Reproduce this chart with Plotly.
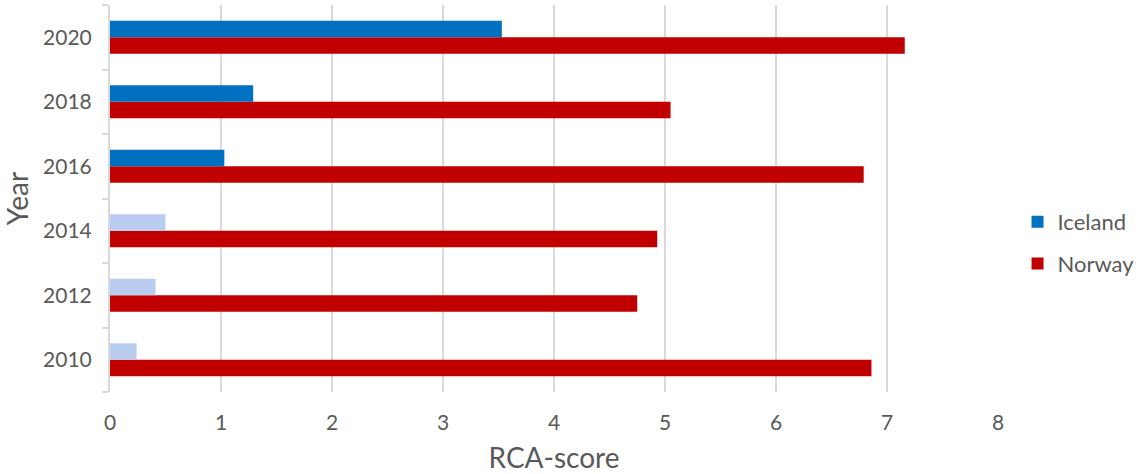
import plotly.graph_objects as go

# Years, top to bottom
years = ["2020", "2018", "2016", "2014", "2012", "2010"]
iceland = [3.53, 1.29, 1.03, 0.50, 0.41, 0.24]
norway = [7.16, 5.05, 6.79, 4.93, 4.75, 6.86]

ICE_BLUE = "#0070c0"
ICE_LIGHT = "#bacdf0"
NOR_RED = "#c00000"
TXT = "#595959"
GRID = "#d9d9d9"

ice_colors = [ICE_BLUE, ICE_BLUE, ICE_BLUE, ICE_LIGHT, ICE_LIGHT, ICE_LIGHT]

fig = go.Figure()
# Norway drawn first so Iceland sits above it within each year
fig.add_trace(go.Bar(
    y=years, x=norway, name="Norway", orientation="h",
    legendgroup="nor", legendrank=2,
    marker=dict(color=NOR_RED, line=dict(width=0)),
))
fig.add_trace(go.Bar(
    y=years, x=iceland, name="Iceland", orientation="h",
    legendgroup="ice", legendrank=1,
    marker=dict(color=ice_colors, line=dict(width=0)),
))

font_family = "Lato, 'Open Sans', sans-serif"

fig.update_layout(
    width=1146, height=474,
    margin=dict(l=110, r=148, t=5, b=82, autoexpand=False),
    paper_bgcolor="white", plot_bgcolor="white",
    barmode="group", bargap=0.49, bargroupgap=0,
    font=dict(family=font_family, color=TXT, size=21),
    showlegend=True,
    legend=dict(
        traceorder="grouped", x=1.022, y=0.385, xanchor="left", yanchor="middle",
        font=dict(size=22, color=TXT), itemsizing="constant", itemwidth=30,
        tracegroupgap=10, bgcolor="rgba(0,0,0,0)",
    ),
    xaxis=dict(
        range=[0, 8], dtick=1, tick0=0,
        showgrid=True, gridcolor=GRID, gridwidth=2,
        zeroline=False, showline=False,
        ticks="", tickfont=dict(size=21, color=TXT), ticklabelstandoff=16,
        title=dict(text="RCA-score", font=dict(size=28, color=TXT), standoff=22),
    ),
    yaxis=dict(
        type="category", categoryorder="array",
        categoryarray=["2010", "2012", "2014", "2016", "2018", "2020"],
        showline=True, linecolor=GRID, linewidth=2,
        ticks="outside", tickson="boundaries", ticklen=6,
        tickcolor=GRID, tickwidth=2, ticklabelstandoff=12,
        showgrid=False, tickfont=dict(size=21, color=TXT),
        title=dict(text="Year", font=dict(size=28, color=TXT), standoff=14),
    ),
)

fig.write_html("out.html")
